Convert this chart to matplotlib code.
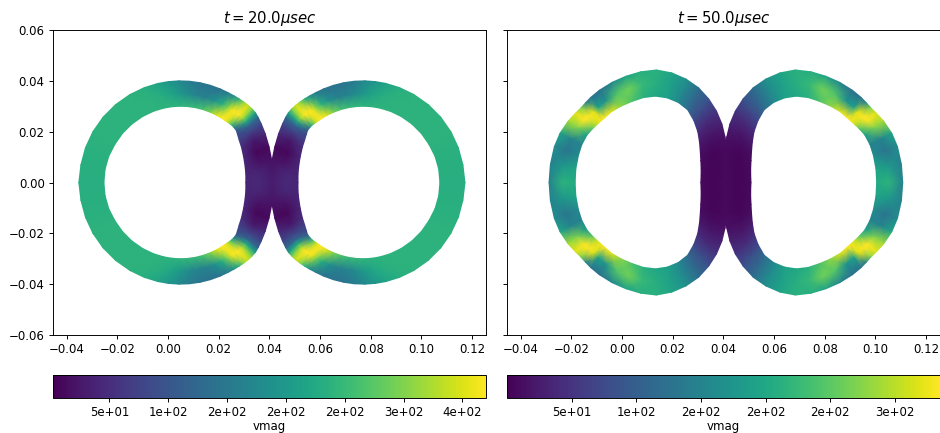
import numpy as np
import matplotlib
matplotlib.use("Agg")
import matplotlib.pyplot as plt

# both rings read in polar form around the left ring centre, upper half only
# t = 20 usec
centre_20 = 0.005
theta_20 = [0, 7, 14, 22, 30, 36, 40, 43, 46, 49, 52, 55, 58, 62, 67, 73, 79, 85,
            91, 97, 103, 111, 120, 130, 140, 150, 160, 170, 180]
r_in_20 = [.0257, .0259, .0262, .0268, .0277, .0285, .0293, .0300, .0302, .0302,
           .0301, .0300, .0300, .0300, .0300, .0300, .0300, .0300, .0300, .0300,
           .0300, .0300, .0300, .0300, .0300, .0300, .0302, .0303, .0303]
r_out_20 = [.0360, .0364, .0370, .0376, .0385, .0393, .0399, .0403, .0404, .0404,
            .0403, .0402, .0401, .0400, .0400, .0400, .0400, .0400, .0400, .0400,
            .0400, .0400, .0400, .0400, .0400, .0400, .0400, .0400, .0402]
v_in_20 = [40, 38, 40, 42, 48, 70, 80, 100, 170, 260, 335, 368, 370, 350, 300, 265,
           250, 245, 240, 238, 238, 238, 238, 238, 238, 238, 236, 234, 232]
v_mid_20 = [45, 40, 22, 8, 25, 75, 120, 225, 320, 368, 370, 360, 300, 235, 190, 165,
            165, 180, 200, 220, 233, 238, 238, 238, 238, 238, 236, 234, 232]
v_out_20 = [30, 25, 18, 12, 45, 80, 125, 210, 300, 345, 300, 230, 185, 155, 140, 140,
            145, 155, 175, 195, 215, 232, 238, 238, 238, 238, 236, 234, 232]

# t = 50 usec
centre_50 = 0.012
theta_50 = [0, 8, 16, 24, 32, 40, 48, 56, 64, 72, 80, 88, 96, 104, 112, 120, 126,
            130, 134, 138, 144, 152, 160, 170, 180]
r_in_50 = [.0191, .0194, .0200, .0209, .0223, .0243, .0268, .0293, .0318, .0331,
           .0338, .0340, .0336, .0329, .0325, .0322, .0317, .0316, .0316, .0317,
           .0319, .0316, .0311, .0307, .0305]
r_out_50 = [.0296, .0303, .0310, .0322, .0338, .0358, .0378, .0397, .0415, .0428,
            .0438, .0443, .0438, .0431, .0425, .0419, .0414, .0410, .0407, .0408,
            .0411, .0413, .0412, .0409, .0408]
v_in_50 = [8, 8, 8, 10, 12, 22, 40, 70, 115, 155, 190, 200, 212, 240, 275, 320, 335,
           330, 300, 250, 190, 150, 160, 195, 205]
v_mid_50 = [5, 5, 4, 5, 8, 20, 40, 78, 115, 160, 190, 210, 225, 262, 245, 170, 190,
            320, 335, 335, 270, 150, 130, 180, 215]
v_out_50 = [10, 10, 8, 10, 14, 30, 50, 85, 120, 170, 195, 212, 210, 195, 155, 125,
            130, 150, 270, 320, 290, 195, 160, 150, 150]

# colour bar limits and ticks
vlim_20 = (2, 370)
vlim_50 = (0, 335)
cbar_ticks_20 = [50, 100, 150, 200, 250, 300, 350]
cbar_ticks_50 = [50, 100, 150, 200, 250, 300]
x_ticks = [-0.04, -0.02, 0.0, 0.02, 0.04, 0.06, 0.08, 0.10, 0.12]
y_ticks = [-0.06, -0.04, -0.02, 0.0, 0.02, 0.04, 0.06]
mirror_x = 0.041


def draw_rings(ax, centre, theta, r_in, r_out, v_in, v_mid, v_out, vlim):
    """Mirror the upper half in y, then the whole ring about the contact plane."""
    th = np.radians(theta)
    r = np.column_stack([r_in, 0.5 * (np.array(r_in) + np.array(r_out)), r_out])
    X = centre + r * np.cos(th)[:, None]
    Y = r * np.sin(th)[:, None]
    C = np.column_stack([v_in, v_mid, v_out]).astype(float)
    X = np.vstack([X[::-1], X[1:]])
    Y = np.vstack([-Y[::-1], Y[1:]])
    C = np.vstack([C[::-1], C[1:]])
    for xx in (X, 2 * mirror_x - X):
        mesh = ax.pcolormesh(xx, Y, C, shading="gouraud", cmap="viridis",
                             vmin=vlim[0], vmax=vlim[1])
    return mesh


W, H, DPI = 940, 433, 85
fig = plt.figure(figsize=(W / DPI, H / DPI), dpi=DPI)
ax1 = fig.add_axes([53 / W, (H - 335) / H, 433 / W, 305 / H])
ax2 = fig.add_axes([507 / W, (H - 335) / H, 433 / W, 305 / H])
cax1 = fig.add_axes([53 / W, (H - 398) / H, 433 / W, 23 / H])
cax2 = fig.add_axes([507 / W, (H - 398) / H, 433 / W, 23 / H])

m1 = draw_rings(ax1, centre_20, theta_20, r_in_20, r_out_20,
                v_in_20, v_mid_20, v_out_20, vlim_20)
m2 = draw_rings(ax2, centre_50, theta_50, r_in_50, r_out_50,
                v_in_50, v_mid_50, v_out_50, vlim_50)

for ax in (ax1, ax2):
    ax.set_xlim(-0.0454, 0.1255)
    ax.set_ylim(-0.06, 0.06)
    ax.set_xticks(x_ticks)
    ax.set_yticks(y_ticks)
ax2.set_yticklabels([])
ax1.set_title(r"$t = 20.0 \mu sec$", fontsize=12.6)
ax2.set_title(r"$t = 50.0 \mu sec$", fontsize=12.6)

cb1 = fig.colorbar(m1, cax=cax1, orientation="horizontal", ticks=cbar_ticks_20,
                   format="%.0e")
cb2 = fig.colorbar(m2, cax=cax2, orientation="horizontal", ticks=cbar_ticks_50,
                   format="%.0e")
cb1.set_label("vmag", labelpad=1)
cb2.set_label("vmag", labelpad=1)

fig.savefig("out.png", dpi=DPI)
